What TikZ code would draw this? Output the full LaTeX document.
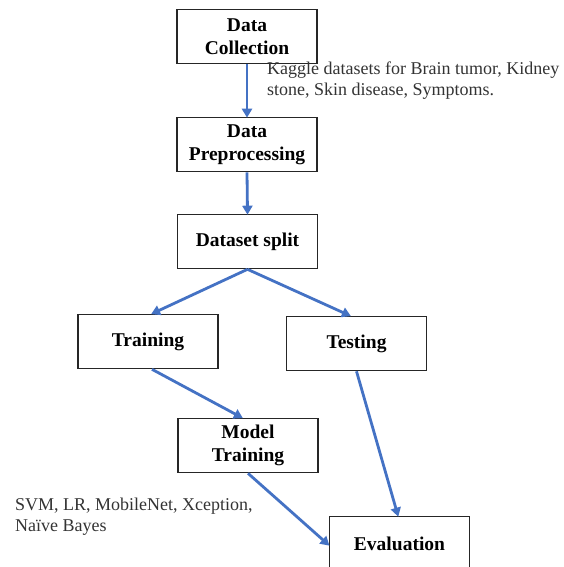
\documentclass[tikz,border=0pt]{standalone}
\usepackage{fontspec}
\setmainfont{Liberation Serif}
\usetikzlibrary{arrows.meta,calc}
\definecolor{arrowblue}{HTML}{4472C4}
\tikzset{
  stepbox/.style={draw=black!85, line width=1.6pt, fill=white, minimum width=140pt,
    minimum height=54pt, align=center, inner sep=2pt,
    font=\fontsize{19.5}{23}\selectfont\bfseries},
  flow/.style={draw=arrowblue, line width=2.8pt,
    -{Triangle[length=9pt,width=10pt]}, shorten >=-1pt},
  note/.style={align=left, anchor=north west, inner sep=0pt,
    font=\fontsize{18}{21}\selectfont, text=black!80}
}
\begin{document}
\begin{tikzpicture}[x=1pt,y=-1pt]
\useasboundingbox (0,0) rectangle (563,567);
\clip (0,0) rectangle (563,567);
\node[stepbox] (dc) at (247,36.5) {Data\\Collection};
\node[stepbox] (dp) at (247,144.5) {Data\\Preprocessing};
\node[stepbox] (ds) at (247.5,241.5) {Dataset split};
\node[stepbox] (tr) at (148,341.5) {Training};
\node[stepbox] (te) at (356.5,343.5) {Testing};
\node[stepbox] (mt) at (248,445.5) {Model\\Training};
\node[stepbox] (ev) at (399.5,543.5) {Evaluation};
\node[note] (kag) at (267,62) {Kaggle datasets for Brain tumor, Kidney\\stone, Skin disease, Symptoms.};
\node[note] (svm) at (15,498) {SVM, LR, MobileNet, Xception,\\Naïve Bayes};
\draw[flow] (dc.south) -- (dp.north);
\draw[flow] (dp.south) -- (ds.north);
\draw[flow] (ds.south) -- ([xshift=4pt]tr.north);
\draw[flow] (ds.south) -- ([xshift=-6.5pt]te.north);
\draw[flow] ([xshift=4pt]tr.south) -- ([xshift=-6pt]mt.north);
\draw[flow] (mt.south) -- ([yshift=-1.5pt]ev.west);
\draw[flow] (te.south) -- ([xshift=-1.5pt]ev.north);
\end{tikzpicture}
\end{document}
